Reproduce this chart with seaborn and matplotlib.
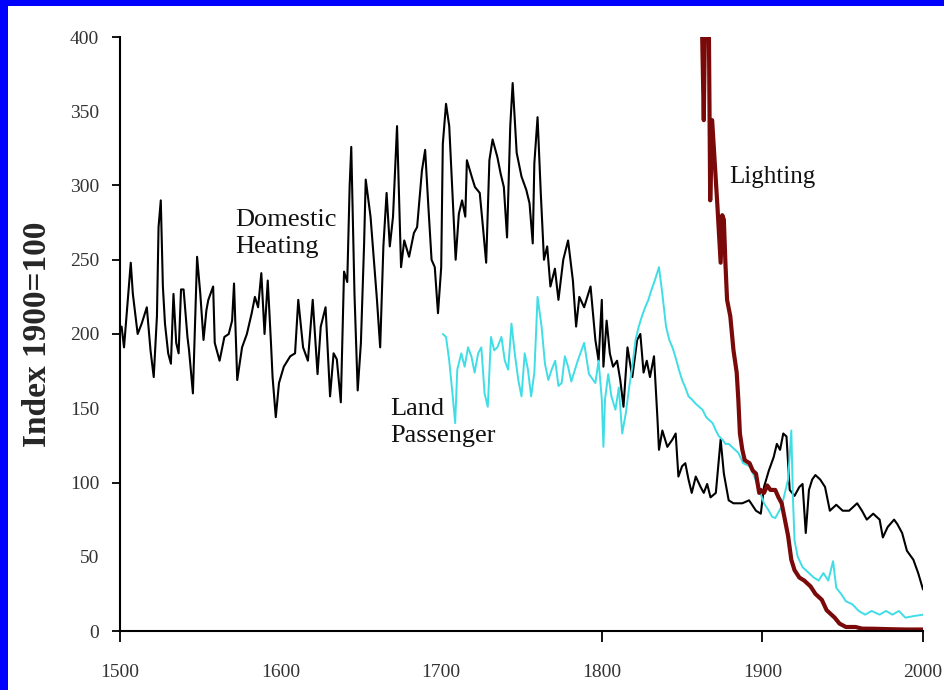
import matplotlib
matplotlib.use("Agg")
import matplotlib.pyplot as plt
import seaborn as sns
import pandas as pd
from matplotlib.patches import Rectangle

heating_years = [1501, 1502.5, 1506.7, 1508, 1511, 1513.5, 1516.7, 1519, 1521, 1523, 1524, 1525.4,
                 1526.7, 1528, 1530, 1531.7, 1533.3, 1535, 1536.5, 1538, 1539.6, 1542, 1543, 1545.4,
                 1548, 1550, 1552, 1553.8, 1555, 1558, 1559, 1562, 1565, 1567.7, 1569.8, 1571, 1573,
                 1576, 1579, 1582, 1584, 1586, 1588, 1590, 1592, 1594, 1595, 1597, 1599, 1602, 1606,
                 1609, 1611, 1614, 1617, 1620, 1623, 1625, 1628, 1630.8, 1633, 1635, 1637.5, 1639.5,
                 1641.5, 1643, 1644, 1646, 1648, 1650, 1652, 1653, 1656, 1660, 1662, 1664, 1666, 1668,
                 1670, 1672.5, 1675, 1677, 1680, 1683, 1685, 1688, 1690, 1692, 1694, 1696, 1698, 1700,
                 1701, 1703, 1705, 1707, 1709, 1711, 1713, 1715, 1716, 1719, 1721, 1724, 1726, 1728,
                 1730, 1732, 1735, 1737, 1739, 1741, 1743, 1744.5, 1747, 1750, 1753, 1755, 1757, 1758,
                 1760, 1762, 1764, 1766, 1768, 1770.8, 1773, 1776, 1779, 1782, 1784, 1786, 1789, 1791,
                 1793, 1796, 1798, 1800, 1801, 1803, 1805, 1807, 1809.5, 1811.5, 1813.5, 1816, 1819,
                 1822, 1824, 1826, 1828, 1830, 1832.5, 1834.6, 1835.6, 1837.7, 1840.8, 1844, 1846,
                 1847.7, 1850, 1852, 1854, 1856, 1858.5, 1861.5, 1863.5, 1865.6, 1867.7, 1871, 1874,
                 1876, 1879, 1882, 1885, 1887.5, 1891.7, 1896, 1899, 1901, 1904, 1907, 1909, 1911, 1913,
                 1915, 1917, 1920, 1923, 1925, 1927, 1929, 1931, 1933, 1936, 1939, 1942, 1946, 1950,
                 1954, 1959, 1962, 1965, 1969, 1973, 1975, 1978, 1982, 1984, 1987, 1990, 1994, 1997, 2000]
heating_values = [205, 191, 248, 227, 200, 207, 218, 189, 171, 212, 272, 290,
                  232, 207, 187, 180, 227, 194, 187, 230, 230, 198, 189, 160,
                  252, 227, 196, 216, 223, 232, 194, 182, 198, 200, 209, 234, 169,
                  191, 200, 214, 225, 218, 241, 200, 236, 194, 171, 144, 167, 178, 185,
                  187, 223, 191, 182, 223, 173, 205, 218, 158, 187, 183, 154, 242,
                  235, 300, 326, 227, 162, 194, 261, 304, 279, 223, 191, 259, 295, 259,
                  279, 340, 245, 263, 252, 268, 272, 310, 324, 286, 250, 245, 214, 245,
                  328, 355, 340, 295, 250, 281, 290, 279, 317, 306, 299, 295, 272, 248,
                  317, 331, 319, 308, 299, 265, 340, 369, 322, 306, 297, 288, 261, 315,
                  346, 295, 250, 259, 232, 244, 223, 250, 263, 236, 205, 225, 218, 225,
                  232, 196, 182, 223, 178, 209, 187, 178, 182, 169, 151, 191, 171,
                  196, 200, 174, 182, 171, 185, 144, 122, 135, 124, 129, 133,
                  104, 111, 113, 102, 93, 104, 97, 93, 99, 90, 93, 129,
                  106, 88, 86, 86, 86, 88, 81, 79, 97, 108, 117, 126, 122, 133,
                  131, 95, 91, 97, 99, 66, 95, 102, 105, 102, 97, 81, 85, 81,
                  81, 86, 81, 75, 79, 75, 63, 70, 75, 72, 66, 54, 48, 39, 28]

passenger_years = [1701, 1703, 1705, 1707, 1708.7, 1710, 1712.5, 1714.6, 1716.7, 1718.8, 1720.8, 1723,
                   1725, 1727, 1729, 1731, 1733, 1735, 1737.5, 1739.6, 1741.7, 1743.75, 1745.8, 1748,
                   1750, 1752, 1754, 1756, 1758, 1760, 1762.5, 1764.6, 1766.7, 1768.75, 1771, 1773,
                   1775, 1777, 1779, 1781, 1785, 1789, 1792, 1796, 1798, 1800, 1801, 1802, 1804, 1806,
                   1808.5, 1810.6, 1812.7, 1815, 1817, 1819, 1821, 1823, 1825, 1827, 1829, 1831, 1833,
                   1835.6, 1837.7, 1840, 1842, 1844, 1846, 1848, 1850, 1852, 1854, 1856, 1858.5, 1860.6,
                   1862.7, 1865, 1867, 1869, 1871, 1873, 1875, 1877, 1879, 1881, 1883, 1885, 1888, 1892,
                   1895, 1898, 1901, 1904, 1906, 1908, 1912, 1916, 1918, 1919, 1920, 1922, 1925, 1929,
                   1932, 1935, 1938, 1941, 1944, 1946, 1949, 1952, 1956, 1960, 1964, 1968, 1973, 1977,
                   1981, 1985, 1989, 1994, 2000]
passenger_values = [200, 198, 182, 160, 140, 176, 187, 178, 191, 185, 174, 187,
                    191, 160, 151, 198, 189, 191, 198, 182, 176, 207, 187, 169,
                    158, 187, 176, 158, 174, 225, 205, 180, 169, 176, 182, 165,
                    167, 185, 178, 168, 182, 194, 173, 167, 182, 156, 124, 156, 173, 158,
                    149, 164, 133, 147, 164, 178, 196, 205, 212, 218, 223, 230, 236,
                    245, 227, 205, 196, 191, 184, 176, 169, 164, 158, 156, 153, 151,
                    149, 144, 142, 140, 135, 131, 129, 126, 126, 124, 122, 120, 113, 111,
                    104, 95, 86, 81, 77, 76, 84, 102, 135, 90, 61, 50, 43, 39,
                    36, 34, 39, 34, 47, 29, 25, 20, 18, 13.5, 11, 13.5, 11, 13.5,
                    11, 13.5, 9, 10, 11]

lighting_years = [1860, 1862, 1863.5, 1864.5, 1866.5, 1867.5, 1868.7, 1872, 1874, 1875, 1876, 1877,
                  1878, 1880, 1882, 1884, 1885, 1886, 1887.5, 1889, 1892, 1894, 1896, 1898, 1899,
                  1901, 1903, 1905, 1908, 1910, 1912, 1914, 1916, 1918, 1920, 1923, 1926, 1930, 1933,
                  1937, 1940, 1945, 1948, 1952, 1958, 1962, 1970, 1980, 1990, 2000]
lighting_values = [430, 430, 344, 430, 430, 290, 344, 286, 248, 280, 277, 247,
                   223, 212, 189, 174, 156, 133, 122, 115, 113, 108, 106, 93, 95,
                   93, 98, 95, 95, 90, 86, 75, 64, 48, 41, 36, 34, 30, 25,
                   21, 14, 9, 5, 2.7, 2.7, 1.6, 1.5, 1.2, 1.0, 1.0]

x_ticks = [1500, 1600, 1700, 1800, 1900, 2000]
y_ticks = [0, 50, 100, 150, 200, 250, 300, 350, 400]

sns.set_theme(style="white")
plt.rcParams['font.family'] = ['Liberation Serif', 'DejaVu Serif']

fig = plt.figure(figsize=(9.44, 6.9), dpi=100)
fig.patch.set_facecolor("white")
ax = fig.add_axes([120 / 944, 1 - 631 / 690, (923 - 120) / 944, (631 - 37) / 690])

df_h = pd.DataFrame({"year": heating_years, "value": heating_values})
df_p = pd.DataFrame({"year": passenger_years, "value": passenger_values})
df_l = pd.DataFrame({"year": lighting_years, "value": lighting_values})

sns.lineplot(data=df_h, x="year", y="value", ax=ax, color="black", lw=1.5, estimator=None, sort=False)
sns.lineplot(data=df_p, x="year", y="value", ax=ax, color="#3fdde6", lw=1.4, estimator=None, sort=False)
sns.lineplot(data=df_l, x="year", y="value", ax=ax, color="#7a0a0a", lw=3.0, estimator=None, sort=False)

ax.set_xlim(1500, 2000)
ax.set_ylim(0, 400)
ax.set_xticks(x_ticks)
ax.set_yticks(y_ticks)
ax.set_xlabel("")
ax.set_ylabel("Index 1900=100", fontsize=24, fontweight="bold", labelpad=12)

for s in ["top", "right"]:
    ax.spines[s].set_visible(False)
for s in ["left", "bottom"]:
    ax.spines[s].set_color("black")
    ax.spines[s].set_linewidth(1.5)

ax.tick_params(axis="y", direction="out", length=6, width=1.3, color="black", pad=9,
               labelsize=14, labelcolor="#333333", left=True)
ax.tick_params(axis="x", direction="out", length=8, width=1.3, color="black", pad=16,
               labelsize=14, labelcolor="#333333", bottom=True)

# tick marks that are not visible in the reference (labels kept)
for i, t in enumerate(ax.xaxis.get_major_ticks()):
    if x_ticks[i] in (1600, 1700):
        t.tick1line.set_visible(False)
for i, t in enumerate(ax.yaxis.get_major_ticks()):
    if y_ticks[i] in (50, 150, 350):
        t.tick1line.set_visible(False)

ax.text(1572, 284, "Domestic\nHeating", fontsize=19, va="top", ha="left", color="#111111", linespacing=1.3)
ax.text(1668.5, 157, "Land\nPassenger", fontsize=19, va="top", ha="left", color="#111111", linespacing=1.3)
ax.text(1879.5, 306, "Lighting", fontsize=18, va="center", ha="left", color="#111111")

# blue frame (top and left)
fig.patches.append(Rectangle((0, 1 - 6 / 690), 1, 6 / 690, transform=fig.transFigure,
                             facecolor="#0000ff", edgecolor="none", zorder=10))
fig.patches.append(Rectangle((0, 0), 8 / 944, 1, transform=fig.transFigure,
                             facecolor="#0000ff", edgecolor="none", zorder=10))

fig.savefig("out.png", dpi=100, facecolor="white")
